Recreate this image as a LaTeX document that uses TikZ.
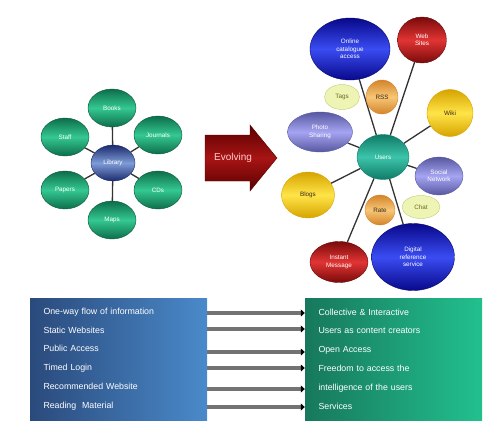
\documentclass[tikz,border=0pt]{standalone}
\usepackage{fontspec}
\setmainfont{Liberation Sans}
\usetikzlibrary{shapes.geometric,arrows.meta,backgrounds}
\definecolor{gDark}{HTML}{0D6E4A}\definecolor{gLight}{HTML}{34C892}
\definecolor{bDark}{HTML}{1B2A6E}\definecolor{bLight}{HTML}{7E9CD6}
\definecolor{tDark}{HTML}{0F7A66}\definecolor{tLight}{HTML}{3CC4AA}
\definecolor{vDark}{HTML}{08088A}\definecolor{vLight}{HTML}{3A4CF2}
\definecolor{rDark}{HTML}{7A0A0A}\definecolor{rLight}{HTML}{E23434}
\definecolor{pDark}{HTML}{5858A0}\definecolor{pLight}{HTML}{A4A4F2}
\definecolor{yDark}{HTML}{D6A400}\definecolor{yLight}{HTML}{FFE448}
\definecolor{oDark}{HTML}{D4842A}\definecolor{oLight}{HTML}{F7C676}
\definecolor{lgFill}{HTML}{EEF4B4}\definecolor{lgDraw}{HTML}{C4CC74}
\definecolor{arDark}{HTML}{5A0000}\definecolor{arLight}{HTML}{A81414}
\definecolor{lbDark}{HTML}{2A4A7C}\definecolor{lbLight}{HTML}{4A8ACA}
\definecolor{rbDark}{HTML}{17785C}\definecolor{rbLight}{HTML}{22C08E}
\tikzset{
  blob/.style={ellipse,inner sep=0pt,align=center,text=white,
    font=\fontsize{6.3}{7.4}\selectfont},
  grn/.style={blob,top color=gDark,bottom color=gDark,middle color=gLight,
    draw=gDark!80!black,minimum width=48,minimum height=38},
  cblue/.style={blob,top color=bDark,bottom color=bDark,middle color=bLight,
    draw=bDark,minimum width=44,minimum height=36},
  cteal/.style={blob,top color=tDark,bottom color=tDark,middle color=tLight,
    draw=tDark,minimum width=52,minimum height=45},
  vblue/.style={blob,top color=vDark,bottom color=vDark,middle color=vLight,
    draw=vDark!80!black},
  vred/.style={blob,top color=rDark,bottom color=rDark,middle color=rLight,
    draw=rDark!80!black},
  vpurp/.style={blob,top color=pDark,bottom color=pDark,middle color=pLight,
    draw=pDark},
  vyel/.style={blob,top color=yDark,bottom color=yDark,middle color=yLight,
    draw=yDark,text=black!70!brown},
  vora/.style={blob,top color=oDark,bottom color=oDark,middle color=oLight,
    draw=oDark,text=black!70!brown},
  vlg/.style={blob,fill=lgFill,draw=lgDraw,text=olive!70!black},
  link/.style={draw=black!80,line width=1.3pt},
  panel/.style={rectangle,inner sep=0pt,minimum width=177,minimum height=122,
    text width=150,align=left,text=white,font=\fontsize{8.8}{18.8}\selectfont},
  flow/.style={draw=black!55,line width=3.5pt,
    -{Triangle[length=4pt,width=7pt,fill=black,color=black]}},
}
\begin{document}
\begin{tikzpicture}[x=1pt,y=-1pt]
\useasboundingbox (0,0) rectangle (486,439);
% left cluster
\node[cblue] (lc) at (113,163) {Library};
\node[grn] (l1) at (112,108) {Books};
\node[grn] (l2) at (158,135) {Journals};
\node[grn] (l3) at (158,190) {CDs};
\node[grn] (l4) at (112,220) {Maps};
\node[grn] (l5) at (65,190) {Papers};
\node[grn] (l6) at (65,137) {Staff};
\begin{scope}[on background layer]
\foreach \n in {l1,l2,l3,l4,l5,l6} \draw[link] (lc) -- (\n);
\end{scope}
% arrow
\path[top color=arDark,bottom color=arDark,middle color=arLight,draw=arDark]
  (205,135) -- (250,135) -- (250,125) -- (277,158) -- (250,191)
  -- (250,181) -- (205,181) -- cycle;
\node[text=red!20!white,font=\fontsize{10}{11}\selectfont] (ev) at (233,158) {Evolving};
% right cluster
\node[cteal] (rc) at (383,157) {Users};
\node[vblue,minimum width=80,minimum height=62] (r1) at (350,49) {Online\\catalogue\\access};
\node[vred,minimum width=49,minimum height=46] (r2) at (422,40) {Web\\Sites};
\node[vyel,minimum width=46,minimum height=47] (r3) at (450,113) {Wiki};
\node[vpurp,minimum width=48,minimum height=38] (r4) at (439,176) {Social\\Network};
\node[vblue,minimum width=83,minimum height=67] (r5) at (413,257) {Digital\\reference\\service};
\node[vred,minimum width=58,minimum height=41] (r6) at (339,262) {Instant\\Message};
\node[vyel,minimum width=53,minimum height=46] (r7) at (308,195) {Blogs};
\node[vpurp,minimum width=65,minimum height=40] (r8) at (320,132) {Photo\\Sharing};
\begin{scope}[on background layer]
\foreach \n in {r1,r2,r3,r4,r5,r6,r7,r8} \draw[link] (rc) -- (\n);
\end{scope}
\node[vlg,minimum width=35,minimum height=25] (s1) at (342,97) {Tags};
\node[vora,minimum width=32,minimum height=34] (s2) at (382,97) {RSS};
\node[vora,minimum width=30,minimum height=30] (s3) at (380,210) {Rate};
\node[vlg,minimum width=38,minimum height=23] (s4) at (421,207) {Chat};
% bottom panels
\node[panel,left color=lbDark,right color=lbLight] (lb) at (118.5,359)
  {One-way flow of information\\Static Websites\\Public Access\\Timed Login\\Recommended Website\\Reading \ Material};
\node[panel,left color=rbDark,right color=rbLight] (rb) at (393.5,359)
  {Collective \& Interactive\\Users as content creators\\Open Access\\Freedom to access the\\intelligence of the users\\Services};
\foreach \yy in {313,329,352,368,389,407}
  \draw[flow] (lb.east |- 0,\yy) -- (rb.west |- 0,\yy);
\end{tikzpicture}
\end{document}
